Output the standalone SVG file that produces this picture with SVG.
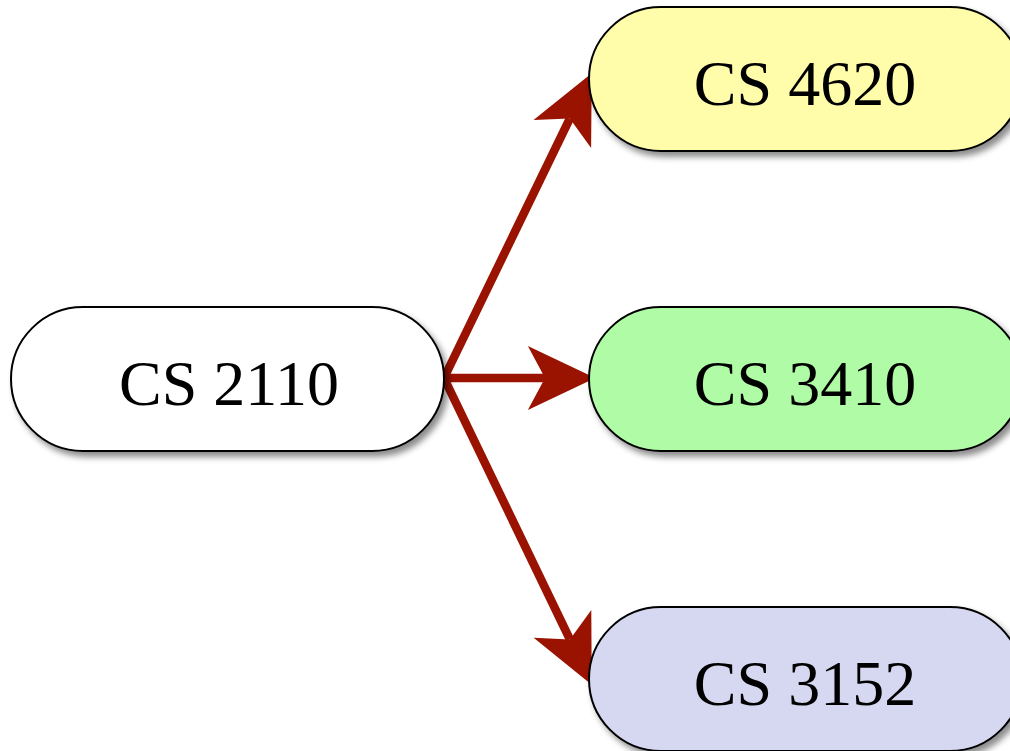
<svg xmlns="http://www.w3.org/2000/svg" width="1010" height="751" viewBox="0 0 1010 751">
<defs>
<filter id="sh" x="-10%" y="-20%" width="130%" height="150%">
<feDropShadow dx="4" dy="5" stdDeviation="3" flood-color="#000" flood-opacity="0.45"/>
</filter>
<marker id="ah" markerUnits="userSpaceOnUse" markerWidth="80" markerHeight="80" viewBox="-20 -35 70 70" refX="0" refY="0" orient="auto">
<path d="M44,0 L-15,-28 L0,0 L-15,28 Z" fill="#9a1200"/>
</marker>
<style>
.node rect{stroke:#000;stroke-width:2;filter:url(#sh)}
.node text{font-family:"Liberation Serif","Times New Roman",serif;font-size:64px;fill:#000;text-anchor:middle}
.edge{stroke:#9a1200;stroke-width:8.5;fill:none;marker-end:url(#ah)}
</style>
</defs>
<rect width="1010" height="751" fill="#fff"/>
<g id="connectors">
<line class="edge" x1="444" y1="378" x2="569.8" y2="118.6"/>
<line class="edge" x1="444" y1="378" x2="545" y2="378"/>
<line class="edge" x1="444" y1="378" x2="569.9" y2="639.4"/>
</g>
<g id="cs2110" class="node">
<rect x="11" y="307" width="433" height="144" rx="72" ry="72" fill="#ffffff"/>
<text x="229" y="405">CS 2110</text>
</g>
<g id="cs4620" class="node">
<rect x="589" y="7" width="433" height="144" rx="72" ry="72" fill="#fffcaa"/>
<text x="805" y="105">CS 4620</text>
</g>
<g id="cs3410" class="node">
<rect x="589" y="307" width="433" height="144" rx="72" ry="72" fill="#b0fba6"/>
<text x="805" y="405">CS 3410</text>
</g>
<g id="cs3152" class="node">
<rect x="589" y="607" width="433" height="144" rx="72" ry="72" fill="#d6d8f2"/>
<text x="805" y="705">CS 3152</text>
</g>
</svg>
